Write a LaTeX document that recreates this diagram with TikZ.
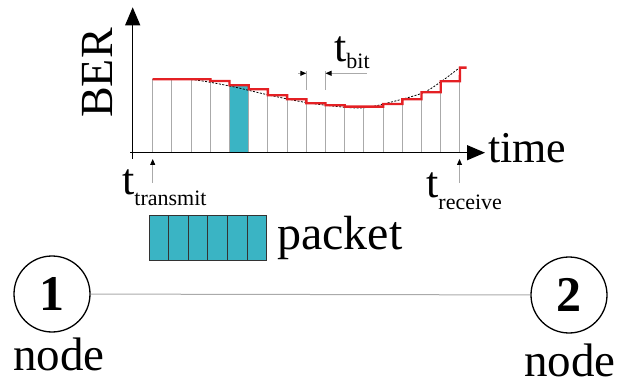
\documentclass[tikz,border=0pt]{standalone}
\usepackage{fontspec}
\setmainfont{Liberation Serif}
\usepackage{xcolor}
\usetikzlibrary{arrows.meta, positioning, calc}

\definecolor{pkt}{RGB}{58,180,196}
\definecolor{berred}{RGB}{228,32,36}
\definecolor{gridgray}{RGB}{170,170,170}

\newcommand\bigsz{\fontsize{44}{44}\selectfont}
\newcommand\subsz{\fontsize{22}{22}\selectfont}
\newcommand\tsub[2][9]{t\raisebox{-#1pt}{\subsz #2}}

\begin{document}
\begin{tikzpicture}[
    x=1pt, y=-1pt,
    axis/.style={line width=1.3pt, -{Triangle[length=18pt,width=15pt]}},
    gridln/.style={gridgray, line width=0.9pt},
    markarr/.style={gridgray, line width=0.8pt, -{Triangle[length=6pt,width=5pt,black]}},
    lbl/.style={inner sep=0, anchor=base west, font=\bigsz},
    station/.style={draw, circle, line width=1.3pt, minimum size=76pt,
                    inner sep=0, font=\fontsize{50}{50}\selectfont\bfseries},
    cell/.style={draw=black!80, line width=1pt, fill=pkt, minimum width=19.55pt,
                 minimum height=45.7pt, inner sep=0},
  ]
  \useasboundingbox (0,0) rectangle (619,385);

  % one bit of the packet on the time line
  \fill[pkt] (229.5,85.3) rectangle (248.7,152.7);

  % bit slots, one level per slot
  \foreach \lv [count=\i from 0] in {79.3,79.3,79.3,81,85.3,89.3,95.3,99.3,
      103.3,105.3,106.7,106.7,104,99.3,92.3,81.3,67.7}
    \draw[gridln] ({152.7+19.2*\i},152.7) -- ({152.7+19.2*\i},\lv);
  \draw[gridln] (306.3,90) -- (306.3,70.7);
  \draw[gridln] (325.5,90) -- (325.5,70.7);

  % smooth BER curve
  \draw[black, line width=0.8pt, dash pattern=on 2pt off 1.5pt]
    plot[smooth] coordinates {(152.7,79.3) (191.7,79.6) (229.7,86) (268.7,95)
      (307,102.7) (345.3,107.3) (364.3,107.7) (383.7,104) (421.7,93.3)
      (441,81.7) (460,67.3)};

  % stepwise BER
  \draw[berred, line width=2.4pt, line join=miter]
    (152.7,79.3)
    \foreach \lv [count=\i from 0] in {79.3,79.3,79.3,81,85.3,89.3,95.3,99.3,
        103.3,105.3,106.7,106.7,104,99.3,92.3,81.3}
      { -- ({152.7+19.2*\i},\lv) -- ({152.7+19.2*(\i+1)},\lv) }
    -- (460,67.7) -- (466.7,67.7);

  % axes
  \coordinate (yfoot) at (132.7,159);
  \coordinate (ytop)  at (132.7,7.3);
  \coordinate (xfoot) at (130,152.7);
  \coordinate (xtip)  at (485,152.7);
  \draw[axis] (yfoot) -- (ytop);
  \draw[axis] (xfoot) -- (xtip);
  \node[font=\fontsize{46}{46}\selectfont, rotate=90, inner sep=0] (ber) at (98,73) {BER};
  \node[lbl] (time) at (488,163) {time};

  % bit duration
  \coordinate (bitl) at (298,73.3);
  \coordinate (bitr) at (366.7,73.3);
  \draw[gridln, -{Triangle[length=6pt,width=5pt,black]}] (bitl) -- (306.3,73.3);
  \draw[gridln, -{Triangle[length=6pt,width=5pt,black]}] (bitr) -- (325.5,73.3);
  \node[lbl] (tbit) at (334,61.7) {\tsub[7]{bit}};

  % send and receive instants
  \coordinate (txfoot) at (152.7,183);
  \coordinate (txtip)  at (152.7,159);
  \coordinate (rxfoot) at (459.5,183);
  \coordinate (rxtip)  at (459.5,159);
  \draw[markarr] (txfoot) -- (txtip);
  \draw[markarr] (rxfoot) -- (rxtip);
  \node[lbl] (ttx) at (122,195) {\tsub[10]{transmit}};
  \node[lbl] (trx) at (426,198) {\tsub[12]{receive}};

  % packet
  \foreach \i in {0,...,5}
    \node[cell] (c\i) at ({149.3+19.55*(\i+0.5)},238) {};
  \node[lbl, font=\fontsize{48}{48}\selectfont] (pktlbl) at (277,249) {packet};

  % the two stations
  \node[station] (n1) at (52,294) {1};
  \node[station] (n2) at (569,295) {2};
  \draw[gridgray, line width=1pt] (n1) -- (n2);
  \node[lbl, font=\fontsize{47}{47}\selectfont] (nd1) at (13,370) {node};
  \node[lbl, font=\fontsize{47}{47}\selectfont] (nd2) at (524,376) {node};
\end{tikzpicture}
\end{document}
